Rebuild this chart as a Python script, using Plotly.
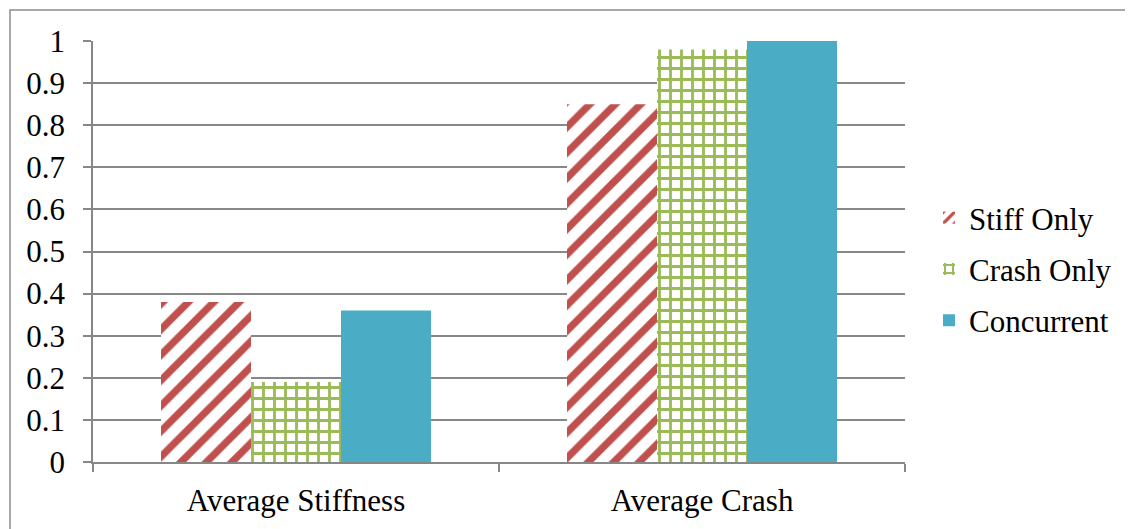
import plotly.graph_objects as go

categories = ["Average Stiffness", "Average Crash"]
series_names = ["Stiff Only", "Crash Only", "Concurrent"]
stiff_only = [0.38, 0.85]
crash_only = [0.19, 0.98]
concurrent = [0.36, 1.0]
y_ticks = [0, 0.1, 0.2, 0.3, 0.4, 0.5, 0.6, 0.7, 0.8, 0.9, 1]

# the page body has a default 8px margin, so the figure is placed at (8, 8)
OFF = 8
W, H = 1133 - OFF, 529 - OFF
L, T = 93 - OFF, 41 - OFF
R = W - (905 - OFF)
B = H - (462 - OFF)
pw, ph = W - L - R, H - T - B

font = "Liberation Serif, Times New Roman, serif"
FS = 31
fig = go.Figure()
fig.add_trace(go.Bar(
    name=series_names[0], x=categories, y=stiff_only, legendgroup="a",
    marker=dict(color="white", line=dict(width=0),
                pattern=dict(shape="/", fgcolor="#C0504D", bgcolor="white",
                             size=18, solidity=0.4, fgopacity=1,
                             fillmode="overlay")),
))
fig.add_trace(go.Bar(
    name=series_names[1], x=categories, y=crash_only, legendgroup="b",
    marker=dict(color="white", line=dict(width=0),
                pattern=dict(shape="+", fgcolor="#9BBB59", bgcolor="white",
                             size=11, solidity=0.45, fgopacity=1,
                             fillmode="overlay")),
))
fig.add_trace(go.Bar(
    name=series_names[2], x=categories, y=concurrent, legendgroup="c",
    marker=dict(color="#4BACC6", line=dict(width=0)),
))

def px_x(p):
    return (p - OFF - L) / pw

def px_y(p):
    return (H - B - (p - OFF)) / ph

# outer frame: only its top and left edges are inside the picture
fig.add_shape(type="rect", xref="paper", yref="paper",
              x0=px_x(10), x1=px_x(1150), y0=px_y(545), y1=px_y(10),
              line=dict(color="#8C8C8C", width=1.5), fillcolor="rgba(0,0,0,0)",
              layer="below")

fig.update_layout(
    width=W, height=H,
    margin=dict(l=L, r=R, t=T, b=B, pad=0, autoexpand=False),
    paper_bgcolor="white", plot_bgcolor="white",
    barmode="group", bargap=0.335, bargroupgap=0,
    font=dict(family=font, size=FS, color="black"),
    showlegend=True,
    legend=dict(x=px_x(929), y=px_y(191), xanchor="left", yanchor="top",
                font=dict(family=font, size=FS), tracegroupgap=8,
                itemwidth=30, bgcolor="rgba(0,0,0,0)"),
    xaxis=dict(showline=True, linecolor="#878787", linewidth=1.5,
               ticks="outside", tickson="boundaries", ticklen=8,
               tickcolor="#878787", tickwidth=1.5, ticklabelstandoff=10,
               tickfont=dict(family=font, size=FS), showgrid=False),
    yaxis=dict(range=[0, 1], tickvals=y_ticks,
               ticktext=[("%g" % v) for v in y_ticks],
               showline=True, linecolor="#878787", linewidth=1.5,
               ticks="outside", ticklen=8, tickcolor="#878787", tickwidth=1.5,
               showgrid=True, gridcolor="#878787", gridwidth=1.5,
               zeroline=False, ticklabelstandoff=12,
               tickfont=dict(family=font, size=FS)),
)

fig.write_html("out.html")
